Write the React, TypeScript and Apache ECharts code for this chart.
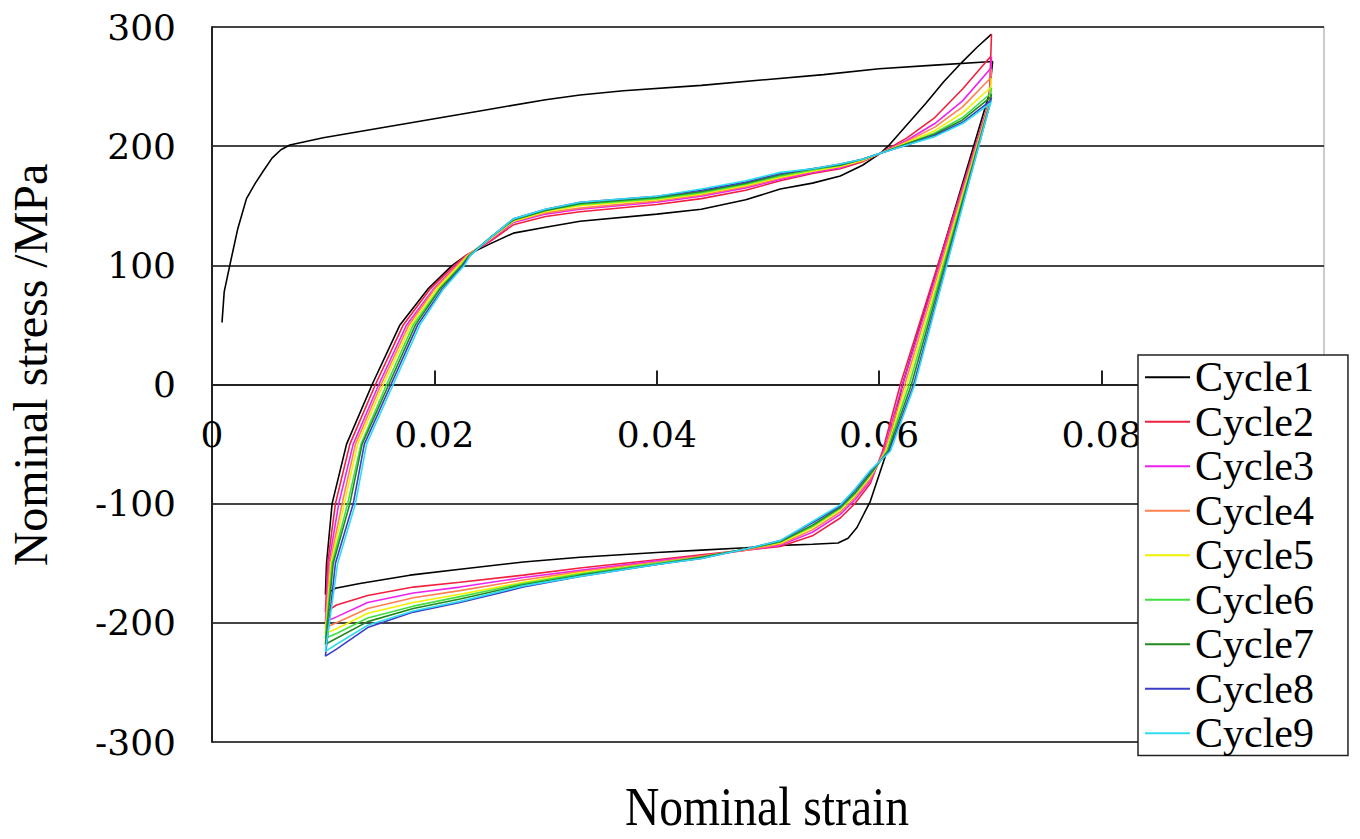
import React, { useEffect, useRef } from "react";
import * as echarts from "echarts";

const seriesNames = ["Cycle1", "Cycle2", "Cycle3", "Cycle4", "Cycle5", "Cycle6", "Cycle7", "Cycle8", "Cycle9"];
const seriesColors = ["#000000", "#f02040", "#ee22ee", "#ff8050", "#f0f000", "#40e040", "#208a20", "#3c3cc8", "#30dcf0"];
const xTicks = [0, 0.02, 0.04, 0.06, 0.08, 0.1];
const yTicks = [-300, -200, -100, 0, 100, 200, 300];

// [strain, stress MPa]
const cycle1 = [
  [0.0009, 52], [0.0011, 78], [0.0016, 100], [0.0023, 130], [0.0031, 156], [0.0039, 169], [0.0046, 179],
  [0.0054, 190], [0.0062, 197], [0.0070, 201], [0.0100, 207], [0.0150, 215], [0.0200, 223], [0.0250, 231],
  [0.0300, 239], [0.0331, 243], [0.0370, 246.5], [0.0440, 251], [0.0500, 256], [0.0550, 260], [0.0600, 265],
  [0.0650, 268], [0.0702, 271],
  [0.0699, 244], [0.0621, 0], [0.0607, -56], [0.0592, -98], [0.0580, -120], [0.0572, -129], [0.0563, -133],
  [0.0540, -134], [0.0511, -135], [0.0480, -137], [0.0440, -139], [0.0400, -141], [0.0331, -145], [0.0280, -149],
  [0.0223, -155], [0.0178, -160], [0.0133, -167], [0.0111, -171], [0.0102, -176],
  [0.0103, -150], [0.0108, -100], [0.0121, -50], [0.0144, 0], [0.0169, 50], [0.0194, 80], [0.0216, 100],
  [0.0228, 108], [0.0250, 118], [0.0271, 127], [0.0300, 132], [0.0331, 137], [0.0400, 143], [0.0440, 147],
  [0.0480, 155], [0.0511, 164], [0.0540, 169], [0.0565, 175], [0.0585, 184], [0.0601, 194], [0.0608, 200],
  [0.0625, 218], [0.0642, 236], [0.0658, 254], [0.0675, 271], [0.0688, 283], [0.0701, 294],
];

const cycle2 = [
  [0.0701, 294], [0.0699, 238], [0.0619, 0], [0.0603, -56], [0.0592, -83], [0.0578, -100], [0.0565, -112],
  [0.0540, -127], [0.0511, -136], [0.0480, -139], [0.0440, -143], [0.0400, -147], [0.0331, -154], [0.0280, -160],
  [0.0223, -166], [0.0181, -170], [0.0140, -177], [0.0112, -185], [0.0102, -191],
  [0.0104, -150], [0.0111, -100], [0.0124, -50], [0.0147, 0], [0.0172, 50], [0.0196, 80], [0.0218, 100], [0.0228, 108],
  [0.0250, 120], [0.0271, 134], [0.0300, 141], [0.0331, 145], [0.0400, 151], [0.0440, 156], [0.0480, 163],
  [0.0511, 171], [0.0540, 177], [0.0565, 181], [0.0585, 187], [0.0601, 194], [0.0625, 207], [0.0650, 224],
  [0.0675, 248], [0.0700, 275],
];

const cycle3 = [
  [0.0701, 275], [0.0699, 237], [0.0621, 0], [0.0604, -56], [0.0592, -81], [0.0578, -97], [0.0565, -109],
  [0.0540, -124], [0.0511, -135], [0.0480, -139], [0.0440, -144], [0.0400, -148], [0.0331, -156], [0.0280, -162],
  [0.0223, -170], [0.0181, -175], [0.0140, -183], [0.0112, -195], [0.0102, -199],
  [0.0105, -150], [0.0114, -100], [0.0127, -50], [0.0150, 0], [0.0175, 50], [0.0199, 80], [0.0220, 100], [0.0229, 108],
  [0.0250, 121], [0.0271, 136], [0.0300, 143], [0.0331, 147], [0.0400, 153], [0.0440, 158], [0.0480, 165],
  [0.0511, 172], [0.0540, 178], [0.0565, 182], [0.0585, 188], [0.0601, 194], [0.0625, 205], [0.0650, 219],
  [0.0675, 238], [0.0700, 265],
];

const cycle4 = [
  [0.0701, 265], [0.0699, 236], [0.0623, 0], [0.0605, -56], [0.0592, -79], [0.0578, -95], [0.0565, -107],
  [0.0540, -122], [0.0511, -134], [0.0480, -139], [0.0440, -144], [0.0400, -149], [0.0331, -157], [0.0280, -164],
  [0.0223, -173], [0.0181, -179], [0.0140, -188], [0.0112, -200], [0.0102, -204],
  [0.0106, -150], [0.0117, -100], [0.0129, -50], [0.0152, 0], [0.0177, 50], [0.0200, 80], [0.0221, 100], [0.0229, 108],
  [0.0250, 122], [0.0271, 137], [0.0300, 144], [0.0331, 148], [0.0400, 154], [0.0440, 159], [0.0480, 166],
  [0.0511, 173], [0.0540, 179], [0.0565, 183], [0.0585, 188], [0.0601, 194], [0.0625, 204], [0.0650, 216],
  [0.0675, 233], [0.0700, 257],
];

const cycle5 = [
  [0.0701, 257], [0.0699, 235], [0.0625, 0], [0.0606, -56], [0.0592, -77], [0.0578, -93], [0.0565, -105],
  [0.0540, -120], [0.0511, -133], [0.0480, -138], [0.0440, -145], [0.0400, -150], [0.0331, -158], [0.0280, -166],
  [0.0223, -176], [0.0181, -183], [0.0140, -192], [0.0112, -205], [0.0102, -209],
  [0.0107, -150], [0.0119, -100], [0.0131, -50], [0.0154, 0], [0.0179, 50], [0.0202, 80], [0.0222, 100], [0.0230, 108],
  [0.0250, 122], [0.0271, 137], [0.0300, 145], [0.0331, 150], [0.0400, 155], [0.0440, 160], [0.0480, 167],
  [0.0511, 174], [0.0540, 179], [0.0565, 183], [0.0585, 188], [0.0601, 194], [0.0625, 203], [0.0650, 213],
  [0.0675, 228], [0.0700, 249],
];

const cycle6 = [
  [0.0701, 249], [0.0699, 234], [0.0627, 0], [0.0607, -56], [0.0592, -76], [0.0578, -92], [0.0565, -104],
  [0.0540, -119], [0.0511, -132], [0.0480, -138], [0.0440, -145], [0.0400, -150], [0.0331, -159], [0.0280, -167],
  [0.0223, -178], [0.0181, -186], [0.0140, -196], [0.0112, -209], [0.0102, -213],
  [0.0108, -150], [0.0122, -100], [0.0134, -50], [0.0157, 0], [0.0181, 50], [0.0204, 80], [0.0224, 100], [0.0231, 108],
  [0.0250, 123], [0.0271, 138], [0.0300, 146], [0.0331, 151], [0.0400, 156], [0.0440, 161], [0.0480, 168],
  [0.0511, 175], [0.0540, 180], [0.0565, 184], [0.0585, 189], [0.0601, 194], [0.0625, 202], [0.0650, 211],
  [0.0675, 224], [0.0700, 244],
];

const cycle7 = [
  [0.0701, 244], [0.0699, 234], [0.0629, 0], [0.0608, -56], [0.0592, -75], [0.0578, -91], [0.0565, -103],
  [0.0540, -118], [0.0511, -132], [0.0480, -138], [0.0440, -145], [0.0400, -151], [0.0331, -160], [0.0280, -168],
  [0.0223, -180], [0.0181, -188], [0.0140, -199], [0.0112, -213], [0.0102, -218],
  [0.0109, -150], [0.0124, -100], [0.0135, -50], [0.0159, 0], [0.0183, 50], [0.0205, 80], [0.0225, 100], [0.0231, 108],
  [0.0250, 123], [0.0271, 138], [0.0300, 146], [0.0331, 152], [0.0400, 157], [0.0440, 162], [0.0480, 169],
  [0.0511, 176], [0.0540, 181], [0.0565, 184], [0.0585, 189], [0.0601, 194], [0.0625, 202], [0.0650, 210],
  [0.0675, 222], [0.0700, 241],
];

const cycle8 = [
  [0.0701, 241], [0.0699, 233], [0.0631, 0], [0.0609, -56], [0.0592, -73], [0.0578, -89], [0.0565, -102],
  [0.0540, -116], [0.0511, -131], [0.0480, -138], [0.0440, -146], [0.0400, -151], [0.0331, -161], [0.0280, -170],
  [0.0223, -183], [0.0181, -191], [0.0140, -204], [0.0112, -222], [0.0102, -228],
  [0.0111, -150], [0.0127, -100], [0.0137, -50], [0.0161, 0], [0.0185, 50], [0.0207, 80], [0.0226, 100], [0.0232, 108],
  [0.0250, 123], [0.0271, 139], [0.0300, 147], [0.0331, 153], [0.0400, 158], [0.0440, 163], [0.0480, 170],
  [0.0511, 177], [0.0540, 181], [0.0565, 185], [0.0585, 189], [0.0601, 194], [0.0625, 201], [0.0650, 209],
  [0.0675, 220], [0.0700, 238],
];

const cycle9 = [
  [0.0701, 238], [0.0699, 233], [0.0632, 0], [0.0610, -56], [0.0592, -72], [0.0578, -88], [0.0565, -101],
  [0.0540, -115], [0.0511, -131], [0.0480, -138], [0.0440, -146], [0.0400, -151], [0.0331, -161], [0.0280, -169],
  [0.0223, -182], [0.0181, -190], [0.0140, -202], [0.0112, -218], [0.0102, -224],
  [0.0113, -150], [0.0129, -100], [0.0139, -50], [0.0163, 0], [0.0187, 50], [0.0208, 80], [0.0227, 100], [0.0232, 108],
  [0.0250, 123], [0.0271, 139], [0.0300, 147], [0.0331, 153], [0.0400, 158], [0.0440, 164], [0.0480, 171],
  [0.0511, 178], [0.0540, 181], [0.0565, 185], [0.0585, 189], [0.0601, 194], [0.0625, 201], [0.0650, 208],
  [0.0675, 219], [0.0700, 236],
];

const cycles = [cycle1, cycle2, cycle3, cycle4, cycle5, cycle6, cycle7, cycle8, cycle9];

export default function App() {
  const ref = useRef<HTMLDivElement>(null);
  useEffect(() => {
    if (!ref.current) return;
    const chart = echarts.init(ref.current, undefined, { renderer: "svg" });
    const labelStyle = { fontFamily: "DejaVu Serif", fontSize: 36, color: "#000" };
    chart.setOption({
      animation: false,
      backgroundColor: "#ffffff",
      grid: {
        left: 212, right: 36, top: 27, bottom: 97,
        show: true, borderColor: "#999", borderWidth: 1, backgroundColor: "transparent",
      },
      xAxis: {
        type: "value",
        min: xTicks[0],
        max: xTicks[xTicks.length - 1],
        interval: 0.02,
        offset: -357.5,
        axisLine: { show: true, onZero: false, lineStyle: { color: "#222", width: 2 } },
        axisTick: { show: true, inside: true, length: 14, lineStyle: { color: "#222", width: 2 } },
        axisLabel: {
          ...labelStyle,
          margin: 32,
          showMaxLabel: false,
          formatter: (v: number) => (v === 0 ? "0" : String(Number(v.toFixed(2)))),
        },
        splitLine: { show: false },
      },
      yAxis: {
        type: "value",
        min: yTicks[0],
        max: yTicks[yTicks.length - 1],
        interval: 100,
        axisLine: { show: true, onZero: false, lineStyle: { color: "#222", width: 2 } },
        axisTick: { show: false },
        axisLabel: { ...labelStyle, margin: 36 },
        splitLine: { show: true, lineStyle: { color: "#444", width: 2 } },
      },
      legend: {
        data: seriesNames,
        orient: "vertical",
        left: 1138,
        top: 355,
        padding: [0, 34, 0, 7],
        itemGap: 0,
        itemWidth: 45,
        itemHeight: 2,
        icon: "rect",
        selectedMode: false,
        backgroundColor: "#ffffff",
        borderColor: "#222",
        borderWidth: 1.5,
        z: 10,
        textStyle: { fontFamily: "Liberation Serif", fontSize: 42, lineHeight: 44.5, color: "#000" },
      },
      graphic: [
        {
          type: "text",
          x: 30,
          y: 365,
          rotation: Math.PI / 2,
          style: {
            text: "Nominal stress /MPa",
            fontFamily: "Liberation Serif",
            fontSize: 48,
            fill: "#000",
            align: "center",
            verticalAlign: "middle",
          },
        },
        {
          type: "text",
          x: 767,
          y: 806,
          scaleX: 0.85,
          style: {
            text: "Nominal strain",
            fontFamily: "Liberation Serif",
            fontSize: 56,
            lineHeight: 50,
            fill: "#000",
            align: "center",
            verticalAlign: "middle",
          },
        },
      ],
      series: cycles.map((d, i) => ({
        name: seriesNames[i],
        type: "line",
        data: d,
        symbol: "none",
        showSymbol: false,
        smooth: false,
        color: seriesColors[i],
        lineStyle: { width: 1.6, color: seriesColors[i] },
        z: 2,
      })),
    });
    return () => chart.dispose();
  }, []);
  return (
    <div
      ref={ref}
      style={{ position: "fixed", left: 0, top: 0, width: "1360px", height: "839px", background: "#fff" }}
    />
  );
}
